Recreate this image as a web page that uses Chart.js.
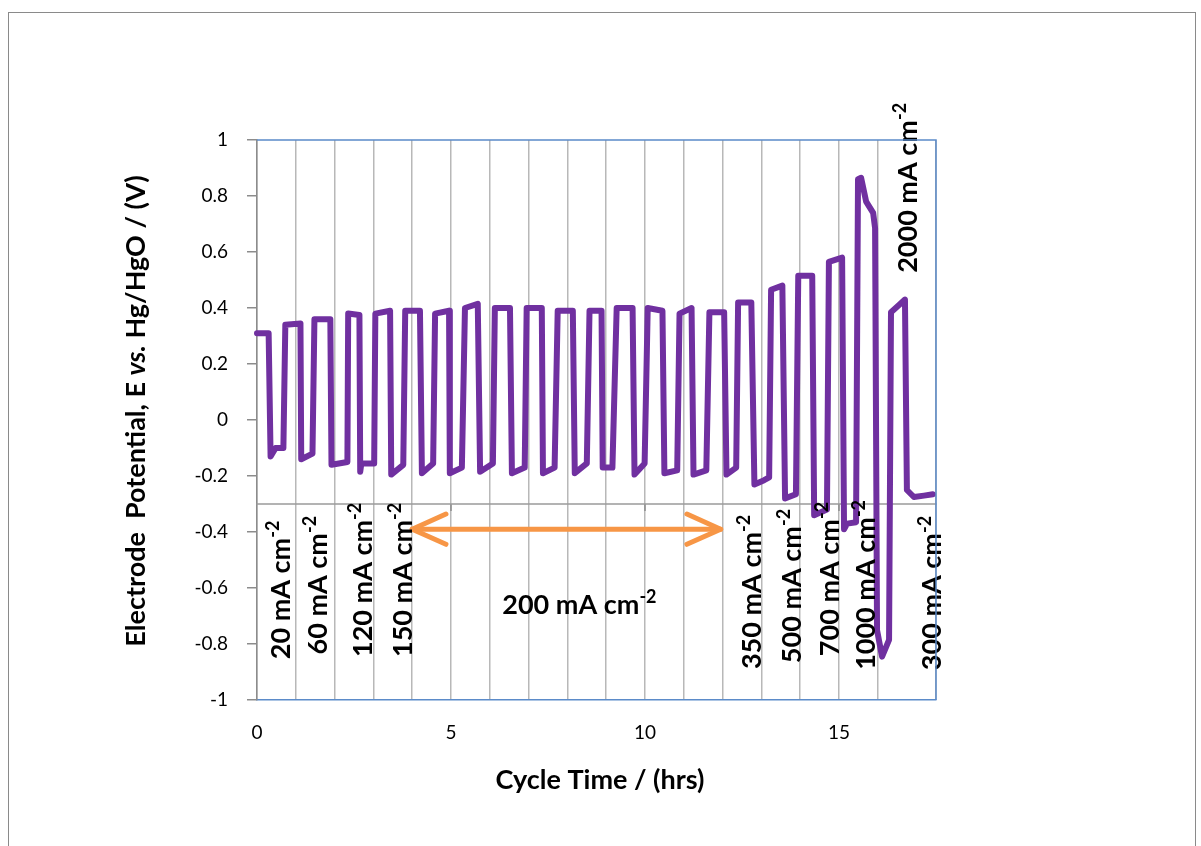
<!DOCTYPE html>
<html><head><meta charset="utf-8">
<script src="https://cdn.jsdelivr.net/npm/chart.js@4.4.1/dist/chart.umd.min.js"></script>
<style>
html,body{margin:0;padding:0;background:#fff;}
#wrap{position:relative;width:1201px;height:846px;overflow:hidden;}
#frame{position:absolute;left:8px;top:12px;width:1188px;height:900px;border:1.5px solid #8a8a8a;box-sizing:border-box;}
canvas{position:absolute;left:0;top:0;}
</style></head>
<body><div id="wrap"><div id="frame"></div><canvas id="c" width="1201" height="846"></canvas></div>
<script>
// ---- data ----
const timeHrs = [0.00,0.30,0.35,0.48,0.68,0.73,1.12,1.14,1.43,1.48,1.89,1.92,2.33,2.35,2.64,2.66,2.69,3.02,3.05,3.43,3.46,3.77,3.82,4.20,4.25,4.54,4.59,4.95,4.97,5.28,5.36,5.69,5.75,6.08,6.13,6.52,6.57,6.90,6.95,7.34,7.37,7.67,7.75,8.14,8.19,8.50,8.57,8.88,8.91,9.16,9.27,9.68,9.73,9.99,10.07,10.45,10.50,10.83,10.89,11.20,11.25,11.58,11.66,12.04,12.10,12.35,12.40,12.74,12.82,13.07,13.20,13.25,13.54,13.61,13.89,13.95,14.31,14.36,14.69,14.74,15.08,15.13,15.21,15.44,15.49,15.57,15.70,15.88,15.93,15.98,16.11,16.29,16.34,16.54,16.70,16.75,16.93,17.19,17.42];
const potentialV = [0.31,0.31,-0.13,-0.10,-0.10,0.34,0.345,-0.14,-0.12,0.36,0.36,-0.16,-0.15,0.38,0.375,-0.185,-0.155,-0.155,0.38,0.39,-0.195,-0.16,0.39,0.39,-0.19,-0.155,0.38,0.39,-0.19,-0.17,0.40,0.415,-0.185,-0.155,0.40,0.40,-0.19,-0.17,0.40,0.40,-0.19,-0.17,0.39,0.39,-0.19,-0.155,0.39,0.39,-0.17,-0.17,0.40,0.40,-0.195,-0.155,0.40,0.39,-0.19,-0.18,0.38,0.40,-0.195,-0.18,0.385,0.385,-0.195,-0.17,0.42,0.42,-0.23,-0.215,-0.205,0.465,0.48,-0.28,-0.265,0.515,0.515,-0.34,-0.32,0.565,0.58,-0.39,-0.37,-0.365,0.86,0.865,0.78,0.74,0.685,-0.75,-0.845,-0.785,0.385,0.41,0.43,-0.25,-0.275,-0.27,-0.265];
const xTickLabels = [0, 5, 10, 15];
const yTickLabels = [1, 0.8, 0.6, 0.4, 0.2, 0, -0.2, -0.4, -0.6, -0.8, -1];
const axisCrossV = -0.3;
const currentLabels = ['20','60','120','150','350','500','700','1000','300','2000'];
const currentLabelTime = [0.60,1.56,2.71,3.74,12.73,13.77,14.74,15.69,17.39,16.75];
const currentLabelV = [-0.607,-0.59,-0.571,-0.571,-0.614,-0.593,-0.568,-0.589,-0.618,0.829];
const arrowLabel = '200';
const arrowLabelPos = [8.31, -0.657];
const arrowShaft = [[4.0,-0.39],[11.95,-0.39]];
const arrowHeadLeft = [[4.87,-0.336],[4.0,-0.39],[4.87,-0.444]];
const arrowHeadRight = [[11.08,-0.336],[11.95,-0.39],[11.08,-0.444]];

const n = Math.min(timeHrs.length, potentialV.length);
const tracePts = [];
for (let i = 0; i < n; i++) tracePts.push({x: timeHrs[i], y: potentialV[i]});
const toPts = a => a.map(p => ({x: p[0], y: p[1]}));

const BOLD = 27, FAM = 'Lato';
function richText(ctx, cx, cy, parts, size, rotate) {
  ctx.save();
  ctx.translate(cx, cy);
  if (rotate) ctx.rotate(-Math.PI / 2);
  const fontFor = p => (p.italic ? 'italic ' : '') + 'bold ' + (p.sup ? Math.round(size * 0.65) : size) + 'px ' + FAM;
  let total = 0;
  const widths = parts.map(p => { ctx.font = fontFor(p); const w = ctx.measureText(p.t).width; total += w; return w; });
  let x = -total / 2;
  const base = size * 0.36;
  ctx.textAlign = 'left'; ctx.textBaseline = 'alphabetic'; ctx.fillStyle = '#000';
  parts.forEach((p, i) => { ctx.font = fontFor(p); ctx.fillText(p.t, x, p.sup ? base - size * 0.40 : base); x += widths[i]; });
  ctx.restore();
}
const unitParts = v => [{t: v + ' mA cm'}, {t: '-2', sup: true}];

const decor = {
  id: 'decor',
  beforeDatasetsDraw(chart) {
    const {ctx, scales: {x, y}} = chart;
    const yp = y.getPixelForValue(axisCrossV);
    ctx.save();
    ctx.strokeStyle = '#8c8c8c'; ctx.lineWidth = 1.5;
    xTickLabels.forEach(v => {
      if (v === 0) return;
      const xp = x.getPixelForValue(v);
      ctx.beginPath(); ctx.moveTo(xp, yp); ctx.lineTo(xp, yp + 7); ctx.stroke();
    });
    ctx.restore();
  },
  afterDatasetsDraw(chart) {
    const {ctx, scales: {x, y}} = chart;
    currentLabels.forEach((lab, i) => {
      richText(ctx, x.getPixelForValue(currentLabelTime[i]), y.getPixelForValue(currentLabelV[i]), unitParts(lab), BOLD, true);
    });
    richText(ctx, x.getPixelForValue(arrowLabelPos[0]), y.getPixelForValue(arrowLabelPos[1]), unitParts(arrowLabel), BOLD, false);
  },
  afterDraw(chart) {
    const {ctx, chartArea: a} = chart;
    ctx.save();
    ctx.strokeStyle = '#5B8BC9'; ctx.lineWidth = 1.5;
    ctx.beginPath(); ctx.moveTo(a.left, a.top); ctx.lineTo(a.right, a.top); ctx.lineTo(a.right, a.bottom); ctx.stroke();
    ctx.restore();
    richText(ctx, 600, 779, [{t: 'Cycle Time / (hrs)'}], BOLD, false);
    richText(ctx, 135, 411, [{t: 'Electrode  Potential, E '}, {t: 'vs.', italic: true}, {t: ' Hg/HgO / (V)'}], BOLD, true);
  }
};

const lineDs = (data, color, width, order) => ({data, showLine: true, borderColor: color, backgroundColor: color, borderWidth: width, pointRadius: 0, borderJoinStyle: 'round', borderCapStyle: 'round', tension: 0, order, clip: 4});

new Chart(document.getElementById('c'), {
  type: 'scatter',
  data: {datasets: [
    lineDs(tracePts, '#7030A0', 6, 0),
    lineDs(toPts(arrowShaft), '#F79646', 5, 1),
    lineDs(toPts(arrowHeadLeft), '#F79646', 5, 1),
    lineDs(toPts(arrowHeadRight), '#F79646', 5, 1),
    lineDs([{x: 0, y: axisCrossV}, {x: 17.5, y: axisCrossV}], '#9a9a9a', 1.5, 5)
  ]},
  options: {
    responsive: false, animation: false, devicePixelRatio: 1,
    layout: {padding: {left: 0, top: 140, right: 265, bottom: 0}},
    plugins: {legend: {display: false}, tooltip: {enabled: false}},
    scales: {
      x: {type: 'linear', min: 0, max: 17.5,
        afterFit(s) { s.height = 146; },
        ticks: {stepSize: 1, autoSkip: false, maxRotation: 0, padding: 21, color: '#000', font: {family: FAM, size: 19},
          callback: v => xTickLabels.includes(v) ? String(v) : ''},
        grid: {color: '#b8b8b8', lineWidth: 1.5, drawTicks: false},
        border: {color: '#5B8BC9', width: 1.5}},
      y: {min: -1, max: 1,
        afterFit(s) { s.width = 257; },
        ticks: {stepSize: 0.2, padding: 19, color: '#000', font: {family: FAM, size: 19},
          callback: v => { const r = Math.round(v * 10) / 10; return yTickLabels.includes(r) ? String(r) : ''; }},
        grid: {drawOnChartArea: false, drawTicks: true, tickLength: 10, color: '#8c8c8c', lineWidth: 1.5},
        border: {color: '#8c8c8c', width: 1.5}}
    }
  },
  plugins: [decor]
});
</script>
</body></html>
